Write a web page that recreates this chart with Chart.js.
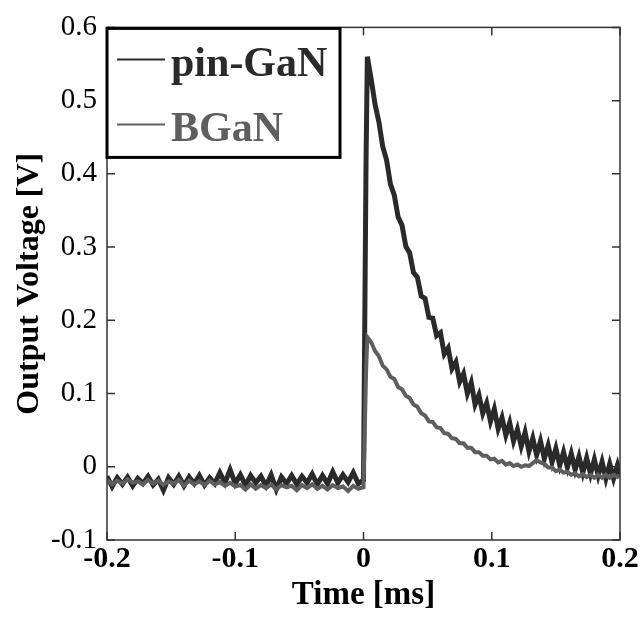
<!DOCTYPE html>
<html>
<head>
<meta charset="utf-8">
<script src="https://cdn.jsdelivr.net/npm/chart.js@4.4.1/dist/chart.umd.min.js"></script>
<style>
  html, body { margin: 0; padding: 0; background: #fff; }
  canvas { display: block; }
</style>
</head>
<body>
<canvas id="pulse" width="644" height="617"></canvas>
<script>
// sample times [ms]
const time = [
  -0.200,-0.196,-0.192,-0.188,-0.184,-0.180,-0.176,-0.172,-0.168,-0.164,
  -0.160,-0.156,-0.152,-0.148,-0.144,-0.140,-0.136,-0.132,-0.128,-0.124,
  -0.120,-0.116,-0.112,-0.108,-0.104,-0.100,-0.096,-0.092,-0.088,-0.084,
  -0.080,-0.076,-0.072,-0.068,-0.064,-0.060,-0.056,-0.052,-0.048,-0.044,
  -0.040,-0.036,-0.032,-0.028,-0.024,-0.020,-0.016,-0.012,-0.008,-0.004,
  0.000,0.001,0.002,0.003,
  0.006,0.009,0.012,0.015,0.018,0.021,0.024,0.027,0.030,0.033,
  0.036,0.039,0.042,0.045,0.048,0.051,0.054,0.057,0.060,0.063,
  0.066,0.069,0.072,0.075,0.078,0.081,0.084,0.087,0.090,0.093,
  0.096,0.099,0.102,0.105,0.108,0.111,0.114,0.117,0.120,0.123,
  0.126,0.129,0.132,0.135,0.138,0.141,0.144,0.147,0.150,0.153,
  0.156,0.159,0.162,0.165,0.168,0.171,0.174,0.177,0.180,0.183,
  0.186,0.189,0.192,0.195,0.198,
  0.200
];

// output voltage [V], pin-GaN detector
const pinGaN = [
  -0.013,-0.027,-0.015,-0.024,-0.014,-0.026,-0.016,-0.023,-0.013,-0.025,
  -0.017,-0.032,-0.015,-0.024,-0.013,-0.026,-0.014,-0.023,-0.012,-0.025,
  -0.015,-0.023,-0.008,-0.022,-0.004,-0.023,-0.011,-0.025,-0.012,-0.022,
  -0.013,-0.026,-0.011,-0.031,-0.014,-0.023,-0.012,-0.024,-0.013,-0.022,
  -0.010,-0.024,-0.012,-0.023,-0.007,-0.022,-0.011,-0.021,-0.008,-0.023,
  -0.018,0.200,0.420,0.560,
  0.529,0.495,0.471,0.437,0.419,0.386,0.371,0.341,0.330,0.301,
  0.292,0.265,0.259,0.233,0.230,0.204,0.203,0.179,0.183,0.154,
  0.162,0.134,0.143,0.116,0.127,0.100,0.115,0.085,0.098,0.073,
  0.087,0.062,0.079,0.052,0.067,0.043,0.060,0.035,0.051,0.028,
  0.047,0.021,0.039,0.016,0.035,0.011,0.029,0.006,0.025,0.002,
  0.020,-0.001,0.018,-0.004,0.014,-0.008,0.012,-0.010,0.010,-0.012,
  0.007,-0.016,0.004,-0.016,0.002,
  -0.012
];

// output voltage [V], BGaN detector
const bGaN = [
  -0.018,-0.024,-0.019,-0.023,-0.017,-0.022,-0.020,-0.024,-0.018,-0.023,
  -0.019,-0.025,-0.020,-0.023,-0.018,-0.026,-0.019,-0.024,-0.020,-0.025,
  -0.019,-0.024,-0.021,-0.026,-0.022,-0.027,-0.025,-0.031,-0.024,-0.030,
  -0.025,-0.029,-0.024,-0.031,-0.025,-0.028,-0.026,-0.032,-0.025,-0.029,
  -0.024,-0.030,-0.026,-0.031,-0.025,-0.029,-0.027,-0.033,-0.026,-0.030,
  -0.028,0.050,0.130,0.177,
  0.170,0.158,0.151,0.138,0.133,0.123,0.120,0.109,0.106,0.097,
  0.094,0.085,0.082,0.073,0.070,0.062,0.061,0.054,0.053,0.046,
  0.045,0.039,0.038,0.032,0.032,0.026,0.026,0.020,0.020,0.015,
  0.015,0.010,0.011,0.006,0.008,0.003,0.005,0.001,0.003,0.000,
  0.002,0.001,0.005,0.009,0.006,0.004,-0.001,-0.001,-0.006,-0.004,
  -0.008,-0.007,-0.011,-0.009,-0.013,-0.010,-0.014,-0.011,-0.015,-0.011,
  -0.015,-0.011,-0.015,-0.011,-0.014,
  -0.012
];

const seriesNames = ["pin-GaN", "BGaN"];
const xTicks = [-0.2, -0.1, 0, 0.1, 0.2];
const xTickLabels = ["-0.2", "-0.1", "0", "0.1", "0.2"];
const yTicks = [-0.1, 0, 0.1, 0.2, 0.3, 0.4, 0.5, 0.6];
const yTickLabels = ["-0.1", "0", "0.1", "0.2", "0.3", "0.4", "0.5", "0.6"];

const serif = "'Liberation Serif', 'Times New Roman', serif";

// frame on all four sides with inward tick marks
const frameTicks = {
  id: "frameTicks",
  afterDatasetsDraw(chart) {
    const { ctx, chartArea: a, scales } = chart;
    ctx.save();
    ctx.strokeStyle = "#333";
    ctx.lineWidth = 1.5;
    ctx.strokeRect(a.left, a.top, a.right - a.left, a.bottom - a.top);
    ctx.beginPath();
    xTicks.forEach(v => {
      const px = scales.x.getPixelForValue(v);
      ctx.moveTo(px, a.bottom); ctx.lineTo(px, a.bottom - 8);
      ctx.moveTo(px, a.top); ctx.lineTo(px, a.top + 8);
    });
    yTicks.forEach(v => {
      const py = scales.y.getPixelForValue(v);
      ctx.moveTo(a.left, py); ctx.lineTo(a.left + 8, py);
      ctx.moveTo(a.right, py); ctx.lineTo(a.right - 8, py);
    });
    ctx.stroke();
    ctx.restore();
  }
};

// boxed legend in the upper left corner
const boxLegend = {
  id: "boxLegend",
  afterDraw(chart) {
    const { ctx, chartArea: a } = chart;
    const bx = a.left, by = a.top + 1, bw = 233, bh = 129;
    ctx.save();
    ctx.fillStyle = "#fff";
    ctx.fillRect(bx, by, bw, bh);
    ctx.strokeStyle = "#000";
    ctx.lineWidth = 3;
    ctx.strokeRect(bx, by, bw, bh);
    ctx.font = "bold 42px " + serif;
    ctx.textBaseline = "alphabetic";
    chart.data.datasets.forEach((ds, i) => {
      const ly = by + 31 + i * 65;
      ctx.strokeStyle = ds.borderColor;
      ctx.lineWidth = 2;
      ctx.beginPath();
      ctx.moveTo(bx + 10, ly);
      ctx.lineTo(bx + 58, ly);
      ctx.stroke();
      ctx.fillStyle = ds.borderColor;
      ctx.fillText(ds.label, bx + 64, ly + 17);
    });
    ctx.restore();
  }
};

new Chart(document.getElementById("pulse"), {
  type: "line",
  data: {
    datasets: [
      {
        label: seriesNames[0],
        data: time.map((t, i) => ({ x: t, y: pinGaN[i] })),
        borderColor: "#2a2a2a",
        borderWidth: 5,
        pointRadius: 0,
        order: 1
      },
      {
        label: seriesNames[1],
        data: time.map((t, i) => ({ x: t, y: bGaN[i] })),
        borderColor: "#5e5e5e",
        borderWidth: 4,
        pointRadius: 0,
        order: 0
      }
    ]
  },
  options: {
    responsive: false,
    animation: false,
    devicePixelRatio: 1,
    layout: { padding: { top: 26, right: 24, left: 0, bottom: 0 } },
    plugins: {
      legend: { display: false },
      tooltip: { enabled: false }
    },
    scales: {
      x: {
        type: "linear",
        min: -0.2,
        max: 0.2,
        afterBuildTicks: s => { s.ticks = xTicks.map(v => ({ value: v })); },
        afterFit: s => { s.height = 77; },
        ticks: {
          autoSkip: false,
          maxRotation: 0,
          padding: 1,
          color: "#000",
          font: { family: serif, size: 30, weight: "bold" },
          callback: (v, i) => xTickLabels[i]
        },
        grid: { display: false, drawTicks: false },
        border: { display: false },
        title: {
          display: true,
          text: "Time [ms]",
          color: "#000",
          font: { family: serif, size: 33, weight: "bold" },
          padding: { top: 0, bottom: 2 }
        }
      },
      y: {
        type: "linear",
        min: -0.1,
        max: 0.6,
        afterBuildTicks: s => { s.ticks = yTicks.map(v => ({ value: v })); },
        afterFit: s => { s.width = 107; },
        ticks: {
          autoSkip: false,
          padding: 10,
          color: "#000",
          font: { family: serif, size: 29 },
          callback: (v, i) => yTickLabels[i]
        },
        grid: { display: false, drawTicks: false },
        border: { display: false },
        title: {
          display: true,
          text: "Output Voltage [V]",
          color: "#000",
          font: { family: serif, size: 32, weight: "bold" },
          padding: { top: 11, bottom: 0 }
        }
      }
    }
  },
  plugins: [frameTicks, boxLegend]
});
</script>
</body>
</html>
